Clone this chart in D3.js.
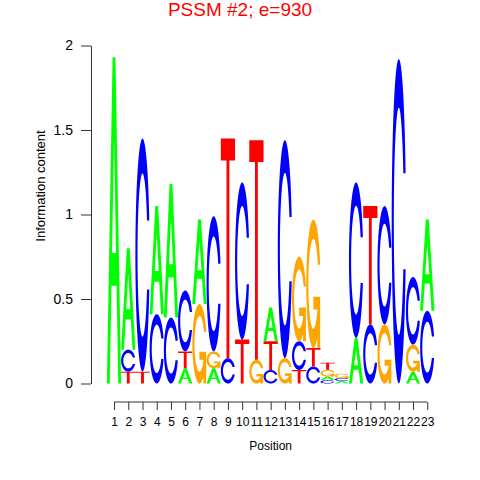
<!DOCTYPE html>
<html>
<head>
<meta charset="utf-8">
<script src="https://cdn.jsdelivr.net/npm/d3@7"></script>
<style>
body { margin: 0; background: #fff; }
text { font-family: "Liberation Sans", Arial, sans-serif; }
</style>
</head>
<body>
<div id="logo_location"></div>
<script>
// information content of every base at each position
var positions = d3.range(1, 24);
var heightA = [1.93, 0.60, 0, 0.64, 0.79, 0.09, 0.50, 0.09, 0, 0, 0, 0.20, 0, 0, 0, 0.021, 0.015, 0.27, 0, 0, 0, 0.07, 0.54];
var heightC = [0, 0.13, 1.38, 0.41, 0.39, 0.36, 0, 0.80, 0.15, 0.93, 0, 0.08, 1.29, 0.17, 0.10, 0.02, 0.018, 0.92, 0.35, 0.70, 1.92, 0.40, 0.43];
var heightG = [0, 0, 0, 0, 0, 0, 0.47, 0.10, 0, 0, 0.14, 0, 0.15, 0.50, 0.76, 0.04, 0.025, 0, 0, 0.35, 0, 0.16, 0];
var heightT = [0, 0.07, 0.07, 0, 0, 0.10, 0, 0, 1.30, 0.26, 1.30, 0.17, 0, 0.08, 0.11, 0.042, 0, 0, 0.70, 0, 0, 0, 0];
var bases = ["A", "C", "G", "T"];
var yTicks = [0, 0.5, 1, 1.5, 2];

var colours = { A: "#00FF00", C: "#0000FF", G: "#FFA500", T: "#FF0000" }; // seqLogo colours

var w = 480;
var h = 480;

var x = d3.scaleLinear().domain([0.5, 23.5]).range([106.9, 434.4]);
var y = d3.scaleLinear().domain([0, 2]).range([383.5, 45.5]);

var svg = d3.select("#logo_location")
    .append("svg")
    .attr("width", w)
    .attr("height", h);

// letter outlines in a unit box (u to the right, v upwards)
function ring() {
    var g = 0.3;
    var gi = Math.asin(0.5 * Math.sin(g) / 0.35); // inner end cut level with outer end
    var pts = [];
    d3.range(61).forEach(function(i) {
        var a = g + (2 * Math.PI - 2 * g) * i / 60;
        pts.push([0.5 + 0.5 * Math.cos(a), 0.5 + 0.5 * Math.sin(a)]);
    });
    d3.range(61).forEach(function(i) {
        var a = 2 * Math.PI - gi - (2 * Math.PI - 2 * gi) * i / 60;
        pts.push([0.5 + 0.35 * Math.cos(a), 0.5 + 0.35 * Math.sin(a)]);
    });
    return pts;
}

function letterShapes(base) {
    if (base === "A") {
        return [
            [[0, 0], [0.4, 1], [0.6, 1], [1, 0], [0.8, 0], [0.68, 0.3], [0.32, 0.3], [0.2, 0]],
            [[0.36, 0.4], [0.5, 0.75], [0.64, 0.4]]
        ];
    } else if (base === "C") {
        return [ring()];
    } else if (base === "G") {
        var r1 = 0.5 + 0.5 * Math.cos(0.3);
        return [ring(), [[r1, 0.4], [0.5, 0.4], [0.5, 0.3], [r1 - 0.2, 0.3], [r1 - 0.2, 0], [r1, 0]]];
    } else {
        return [[[0, 1], [1, 1], [1, 0.9], [0.6, 0.9], [0.6, 0], [0.4, 0], [0.4, 0.9], [0, 0.9]]];
    }
}

// stack the letters in every column, smallest at the bottom
var letters = [];
positions.forEach(function(p, i) {
    var col = [
        { base: "A", ic: heightA[i] },
        { base: "C", ic: heightC[i] },
        { base: "G", ic: heightG[i] },
        { base: "T", ic: heightT[i] }
    ].filter(function(d) { return d.ic > 0; });
    col.sort(function(a, b) { return a.ic - b.ic; });
    var base = 0;
    col.forEach(function(d) {
        letters.push({ pos: p, base: d.base, y0: base, y1: base + d.ic });
        base += d.ic;
    });
});

svg.append("g")
    .attr("class", "letters")
    .selectAll("path")
    .data(letters)
    .enter()
    .append("path")
    .attr("fill", function(d) { return colours[d.base]; })
    .attr("fill-rule", function(d) { return d.base === "A" ? "evenodd" : "nonzero"; })
    .attr("d", function(d) {
        var left = x(d.pos - 0.5);
        var right = x(d.pos + 0.5);
        var bottom = y(d.y0);
        var top = y(d.y1);
        return letterShapes(d.base).map(function(poly) {
            return "M" + poly.map(function(p) {
                return (left + p[0] * (right - left)).toFixed(2) + "," + (bottom - p[1] * (bottom - top)).toFixed(2);
            }).join("L") + "Z";
        }).join("");
    });

// y axis, R style
var yAxis = svg.append("g")
    .attr("transform", "translate(91,0)")
    .call(d3.axisLeft(y).tickValues(yTicks).tickSize(10).tickSizeOuter(0).tickFormat(function(d) { return String(d); }));
yAxis.selectAll("path, line").attr("stroke", "#333");
yAxis.selectAll("text")
    .attr("x", -18)
    .style("font-size", "14px")
    .attr("fill", "#000");

// x axis: line only spans the first to last tick
var xAxis = svg.append("g")
    .attr("transform", "translate(0,402)")
    .call(d3.axisBottom(x).tickValues(positions).tickSize(8).tickFormat(function(d) { return String(d); }));
xAxis.select(".domain").remove();
xAxis.append("line")
    .attr("x1", x(1))
    .attr("x2", x(23))
    .attr("stroke", "#333");
xAxis.selectAll("line").attr("stroke", "#333");
xAxis.selectAll("text")
    .attr("y", 15)
    .style("font-size", "12px")
    .attr("fill", "#000");

svg.append("text")
    .attr("x", x(12))
    .attr("y", 450)
    .attr("text-anchor", "middle")
    .style("font-size", "12px")
    .text("Position");

svg.append("text")
    .attr("transform", "translate(45,186) rotate(-90)")
    .attr("text-anchor", "middle")
    .style("font-size", "13px")
    .text("Information content");

svg.append("text")
    .attr("x", 240)
    .attr("y", 16)
    .attr("text-anchor", "middle")
    .attr("fill", "#FF0000")
    .style("font-size", "19px")
    .text("PSSM #2; e=930");
</script>
</body>
</html>
